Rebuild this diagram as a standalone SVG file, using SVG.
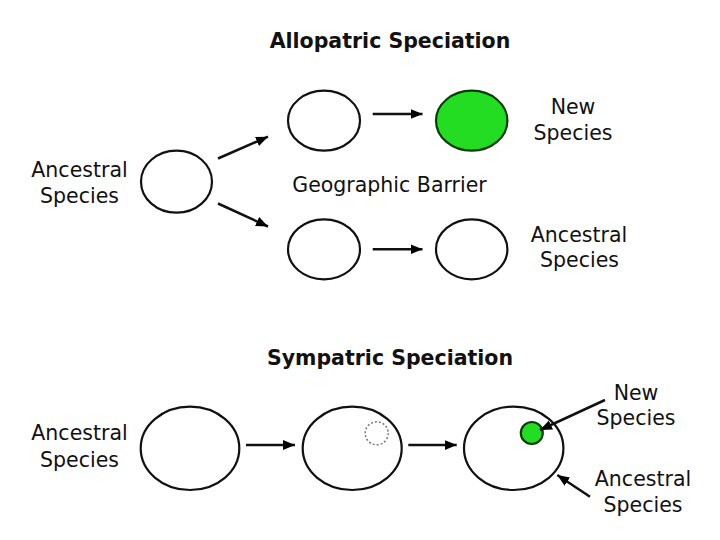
<svg xmlns="http://www.w3.org/2000/svg" width="720" height="540" viewBox="0 0 720 540">
<defs>
<marker id="ah" markerUnits="userSpaceOnUse" markerWidth="13" markerHeight="11" refX="12" refY="5" orient="auto">
<path d="M0,0 L12,5 L0,10 z" fill="#000"/>
</marker>
<style>
.t{font-family:"DejaVu Sans","Verdana",sans-serif;font-size:20.5px;fill:#111;text-anchor:middle}
.h{font-family:"DejaVu Sans","Verdana",sans-serif;font-size:20.5px;font-weight:bold;fill:#111;text-anchor:middle}
.e{fill:#fff;stroke:#111;stroke-width:2.2}
.g{fill:#22dd22;stroke:#0b3d0b;stroke-width:2.2}
.c{stroke:#111;stroke-width:2.5;fill:none;marker-end:url(#ah)}
</style>
</defs>
<rect width="720" height="540" fill="#fff"/>
<text class="h" x="390" y="48">Allopatric Speciation</text>
<text class="h" x="390" y="365">Sympatric Speciation</text>
<text class="t" x="389.5" y="192">Geographic Barrier</text>
<g id="allo-ancestral-label"><text class="t" x="79.5" y="177">Ancestral</text><text class="t" x="79.5" y="203">Species</text></g>
<g id="allo-ancestral"><ellipse class="e" cx="176.5" cy="181.7" rx="35.5" ry="31"/></g>
<g id="allo-top1"><ellipse class="e" cx="324" cy="120.7" rx="36" ry="30"/></g>
<g id="allo-top2"><ellipse class="g" cx="471.7" cy="120.7" rx="35.7" ry="30"/></g>
<g id="allo-bot1"><ellipse class="e" cx="324" cy="249.3" rx="36" ry="30"/></g>
<g id="allo-bot2"><ellipse class="e" cx="471.7" cy="249.3" rx="35.7" ry="30"/></g>
<g id="allo-new-label"><text class="t" x="573" y="114">New</text><text class="t" x="573" y="139.5">Species</text></g>
<g id="allo-anc-label"><text class="t" x="579" y="241.7">Ancestral</text><text class="t" x="579.5" y="267.3">Species</text></g>
<g id="sym-ancestral-label"><text class="t" x="79.5" y="440">Ancestral</text><text class="t" x="79.5" y="466.5">Species</text></g>
<g id="sym-1"><ellipse class="e" cx="190" cy="448.3" rx="49.3" ry="41.7"/></g>
<g id="sym-2"><ellipse class="e" cx="352.2" cy="448.3" rx="49.5" ry="41.7"/><circle cx="376.7" cy="433.3" r="11.5" fill="none" stroke="#777" stroke-width="1.5" stroke-dasharray="2,2"/></g>
<g id="sym-3"><ellipse class="e" cx="513.7" cy="448.3" rx="49.7" ry="41.7"/><circle class="g" cx="531.8" cy="433" r="11"/></g>
<g id="sym-new-label"><text class="t" x="636" y="400">New</text><text class="t" x="636" y="425">Species</text></g>
<g id="sym-anc-label"><text class="t" x="643" y="486">Ancestral</text><text class="t" x="643" y="511.7">Species</text></g>
<g id="connectors">
<line class="c" x1="218" y1="158.5" x2="268" y2="136.7"/>
<line class="c" x1="218" y1="203.5" x2="268" y2="226.5"/>
<line class="c" x1="372.7" y1="114" x2="422.5" y2="114"/>
<line class="c" x1="372.7" y1="249.3" x2="422.5" y2="249.3"/>
<line class="c" x1="246" y1="445" x2="295" y2="445"/>
<line class="c" x1="408.3" y1="445" x2="456.7" y2="445"/>
<line class="c" x1="605" y1="400" x2="540" y2="430"/>
<line class="c" x1="590" y1="496.7" x2="557.3" y2="475"/>
</g>
</svg>
